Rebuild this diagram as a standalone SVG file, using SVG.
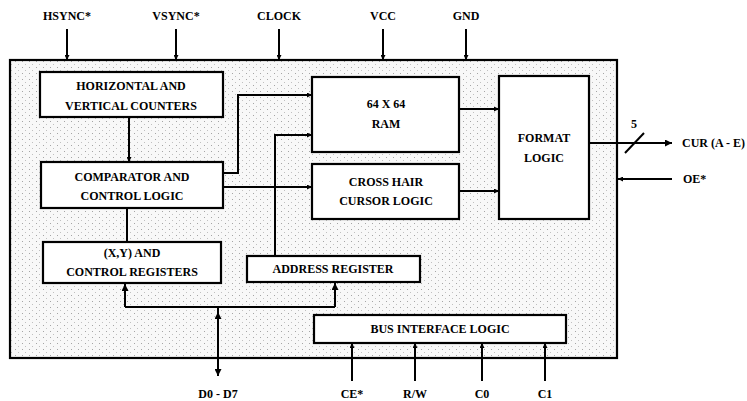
<svg xmlns="http://www.w3.org/2000/svg" width="747" height="401" viewBox="0 0 747 401">
<defs>
<style>
.box{fill:#fff;stroke:#000;stroke-width:2.2}
.lbl{font-family:"Liberation Serif","Times New Roman",serif;font-weight:bold;font-size:12px;text-anchor:middle;fill:#000}
.pin{font-family:"Liberation Serif","Times New Roman",serif;font-weight:bold;font-size:12px;text-anchor:middle;fill:#000}
.ln{fill:none;stroke:#000;stroke-width:2}
.ar{marker-end:url(#arr)}
</style>
<pattern id="stip" width="7" height="6" patternUnits="userSpaceOnUse">
<rect width="7" height="6" fill="#f8f8f8"/>
<rect x="1" y="1" width="1" height="1" fill="#a5a5a5"/>
<rect x="4" y="4" width="1" height="1" fill="#c0c0c0"/>
</pattern>
<marker id="arr" viewBox="0 0 10 10" refX="10" refY="5" markerWidth="7" markerHeight="5" markerUnits="userSpaceOnUse" orient="auto">
<path d="M0,0 L10,5 L0,10 z" fill="#000"/>
</marker>
<marker id="big" viewBox="0 0 10 10" refX="10" refY="5" markerWidth="15" markerHeight="7" markerUnits="userSpaceOnUse" orient="auto">
<path d="M0,0 L10,5 L0,10 z" fill="#000"/>
</marker>
<marker id="dbl" viewBox="0 0 10 10" refX="10" refY="5" markerWidth="10" markerHeight="7" markerUnits="userSpaceOnUse" orient="auto-start-reverse">
<path d="M0,0 L10,5 L0,10 z" fill="#000"/>
</marker>
</defs>

<g id="chip">
<rect x="10" y="60" width="607" height="298" fill="url(#stip)" stroke="#000" stroke-width="2.2"/>
</g>

<g id="connectors">
<line class="ln ar" x1="67" y1="29" x2="67" y2="60"/>
<line class="ln ar" x1="176" y1="29" x2="176" y2="60"/>
<line class="ln ar" x1="279" y1="29" x2="279" y2="60"/>
<line class="ln ar" x1="383" y1="29" x2="383" y2="60"/>
<line class="ln ar" x1="466" y1="29" x2="466" y2="60"/>
<line class="ln ar" x1="129" y1="117" x2="129" y2="162"/>
<line class="ln" x1="127" y1="208" x2="127" y2="242"/>
<path class="ln ar" d="M223,173 H238 V95 H312"/>
<path class="ln ar" d="M223,187 H312"/>
<path class="ln ar" d="M275,256 V135 H312"/>
<path class="ln ar" d="M459,109 H499"/>
<path class="ln ar" d="M459,191 H499"/>
<path class="ln" d="M589,143 H672" marker-end="url(#big)"/>
<line class="ln" x1="625" y1="153" x2="644" y2="133"/>
<path class="ln ar" d="M672,179 H618"/>
<path class="ln" d="M125,307 H335"/>
<path class="ln" d="M125,307 V284" marker-end="url(#dbl)"/>
<path class="ln" d="M335,307 V283" marker-end="url(#dbl)"/>
<line class="ln" x1="218" y1="307" x2="218" y2="313"/>
<path class="ln" d="M218,312 V376" marker-start="url(#dbl)" marker-end="url(#dbl)"/>
<line class="ln ar" x1="352" y1="381" x2="352" y2="343"/>
<line class="ln ar" x1="415" y1="381" x2="415" y2="343"/>
<line class="ln ar" x1="482" y1="381" x2="482" y2="343"/>
<line class="ln ar" x1="545" y1="381" x2="545" y2="343"/>
</g>

<g id="hv-counters">
<rect class="box" x="40" y="72" width="183" height="45"/>
<text class="lbl" x="131" y="90">HORIZONTAL AND</text>
<text class="lbl" x="131" y="110">VERTICAL COUNTERS</text>
</g>

<g id="comparator">
<rect class="box" x="41" y="162" width="182" height="46"/>
<text class="lbl" x="132" y="181">COMPARATOR AND</text>
<text class="lbl" x="132" y="200">CONTROL LOGIC</text>
</g>

<g id="xy-registers">
<rect class="box" x="43" y="242" width="178" height="41"/>
<text class="lbl" x="132" y="257">(X,Y)  AND</text>
<text class="lbl" x="132" y="276">CONTROL REGISTERS</text>
</g>

<g id="ram">
<rect class="box" x="312" y="77" width="147" height="75"/>
<text class="lbl" x="386" y="108">64 X 64</text>
<text class="lbl" x="386" y="128">RAM</text>
</g>

<g id="cross-hair">
<rect class="box" x="312" y="164" width="147" height="55"/>
<text class="lbl" x="386" y="186">CROSS HAIR</text>
<text class="lbl" x="386" y="205">CURSOR LOGIC</text>
</g>

<g id="address-register">
<rect class="box" x="247" y="256" width="173" height="26"/>
<text class="lbl" x="333" y="273">ADDRESS REGISTER</text>
</g>

<g id="format-logic">
<rect class="box" x="499" y="76" width="90" height="143"/>
<text class="lbl" x="544" y="142">FORMAT</text>
<text class="lbl" x="544" y="162">LOGIC</text>
</g>

<g id="bus-interface">
<rect class="box" x="314" y="315" width="252" height="28"/>
<text class="lbl" x="440" y="333">BUS INTERFACE LOGIC</text>
</g>

<g id="pins">
<text class="pin" x="67" y="20">HSYNC*</text>
<text class="pin" x="176" y="20">VSYNC*</text>
<text class="pin" x="279" y="20">CLOCK</text>
<text class="pin" x="383" y="20">VCC</text>
<text class="pin" x="466" y="20">GND</text>
<text class="pin" x="634" y="128">5</text>
<text class="pin" x="682" y="147" style="text-anchor:start">CUR (A - E)</text>
<text class="pin" x="683" y="183" style="text-anchor:start">OE*</text>
<text class="pin" x="218" y="398">D0 - D7</text>
<text class="pin" x="352" y="398">CE*</text>
<text class="pin" x="415" y="398">R/W</text>
<text class="pin" x="482" y="398">C0</text>
<text class="pin" x="545" y="398">C1</text>
</g>
</svg>
